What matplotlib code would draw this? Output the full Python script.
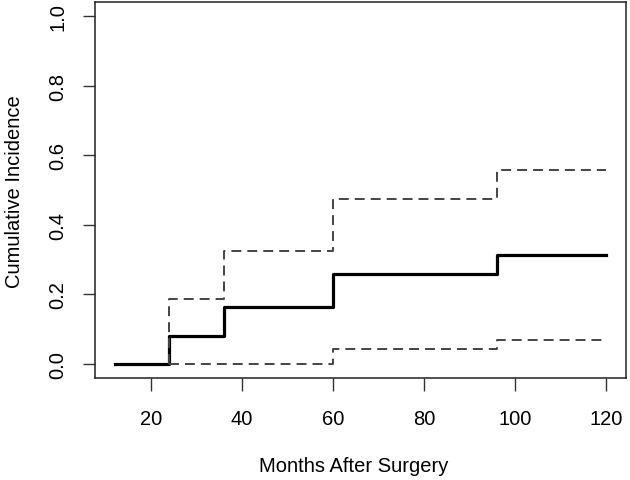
import matplotlib
matplotlib.use("Agg")
import matplotlib.pyplot as plt

plt.rcParams['font.family'] = ['Liberation Sans', 'DejaVu Sans']

# cumulative incidence estimate and confidence limits (months)
months = [12, 24, 36, 60, 96, 120]
incidence = [0.0, 0.081, 0.163, 0.259, 0.313, 0.313]

ci_months = [24, 36, 60, 96, 120]
upper = [0.188, 0.324, 0.473, 0.557, 0.557]
lower = [0.0, 0.0, 0.042, 0.069, 0.069]

xticks = [20, 40, 60, 80, 100, 120]
yticks = [0.0, 0.2, 0.4, 0.6, 0.8, 1.0]

W, H = 630, 481
fig = plt.figure(figsize=(6.3, 4.81), dpi=100)
ax = fig.add_axes([95 / W, 1 - 379 / H, (626 - 95) / W, (379 - 3) / H])

ax.step(months, incidence, where='post', color='black', lw=2.3)
ax.step([24] + ci_months, [0.0] + upper, where='post', color='#444444',
        lw=1.4, dashes=(5.1, 3.1))
ax.step(ci_months, lower, where='post', color='#444444',
        lw=1.4, dashes=(5.1, 3.1))

ax.set_xlim(12 - 0.04 * 108, 120 + 0.04 * 108)
ax.set_ylim(-0.04, 1.04)
ax.set_xticks(xticks)
ax.set_yticks(yticks)
ax.set_xticklabels([str(t) for t in xticks], fontsize=14.5)
ax.set_yticklabels(['%.1f' % t for t in yticks], fontsize=14.5, rotation=90,
                   va='center')
ax.tick_params(axis='x', length=9, width=1, color='#333333', pad=13)
ax.tick_params(axis='y', length=9, width=1, color='#333333', pad=11)
for s in ax.spines.values():
    s.set_linewidth(1.1)
    s.set_color('#222222')

fig.text(15 / W, 1 - 192 / H, 'Cumulative Incidence', rotation=90,
         ha='center', va='center', fontsize=14.5)
fig.text(354 / W, 1 - 466 / H, 'Months After Surgery',
         ha='center', va='center', fontsize=14.5)

fig.savefig('out.png', dpi=100)
